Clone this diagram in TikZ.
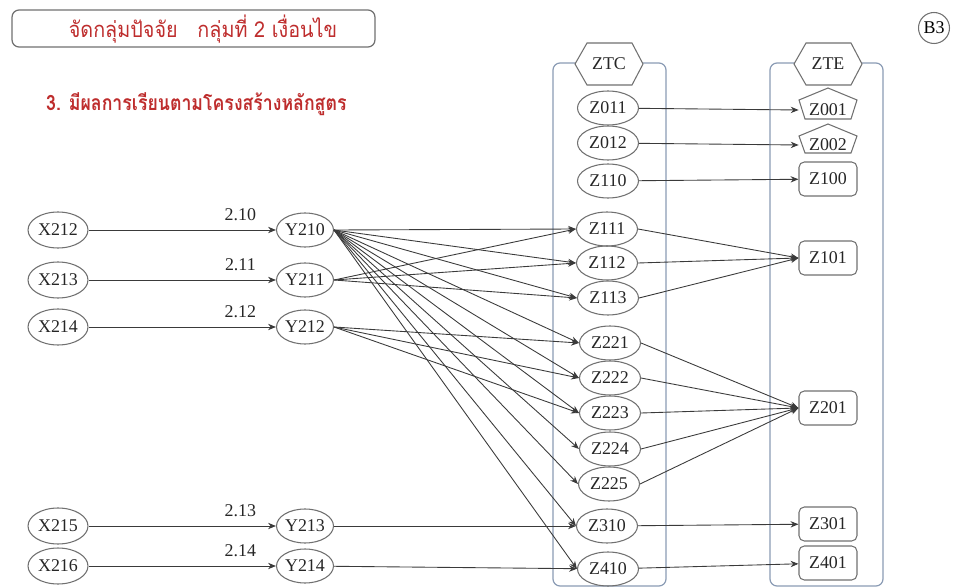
\documentclass[tikz,border=0pt]{standalone}
\usepackage{fontspec}
\setmainfont{Liberation Serif}
\newfontfamily\thaifont[Script=Thai, FakeStretch=0.9]{Loma}
\newfontfamily\thaihead[Script=Thai, FakeStretch=0.84]{Loma}
\usetikzlibrary{arrows.meta, positioning, shapes.geometric}
\definecolor{ztRed}{HTML}{BE2D2D}
\definecolor{ztFrame}{HTML}{8A9BB4}
\definecolor{ztLine}{HTML}{3A3A3A}
\definecolor{ztEdge}{HTML}{707070}

\begin{document}
\begin{tikzpicture}[
  x=0.02cm, y=-0.02cm,
  var/.style={
    ellipse, draw=ztEdge, line width=0.6pt, inner sep=0pt,
    minimum width=1.22cm, minimum height=0.68cm,
    font=\fontsize{10.2}{11}\selectfont, text=black!85,
  },
  zbox/.style={
    rectangle, rounded corners=3pt, draw=ztEdge, line width=0.6pt,
    minimum width=1.16cm, minimum height=0.68cm, inner sep=0pt,
    font=\fontsize{10.2}{11}\selectfont, text=black!85,
  },
  zpent/.style={
    rectangle, minimum width=1.16cm, minimum height=0.6cm, inner sep=0pt,
    font=\fontsize{10.2}{11}\selectfont, text=black!85,
  },
  frame/.style={draw=ztFrame, rounded corners=4pt, line width=0.7pt},
  hexa/.style={draw=ztEdge, fill=white, line width=0.6pt},
  arr/.style={-{Stealth[length=4.5pt, width=3.6pt]}, line width=0.5pt, color=ztLine},
  wlabel/.style={font=\fontsize{10.2}{11}\selectfont, text=black!85, inner sep=1pt},
]
\useasboundingbox (0,0) rectangle (958,588);

% Heading
\node[draw=ztEdge, rounded corners=4pt, line width=0.7pt,
      minimum width=7.26cm, minimum height=0.74cm] (title) at (193.5,28.5) {};
\node[font=\thaifont\fontsize{12.5}{14}\selectfont, text=ztRed] (titletext) at (203,29)
  {จัดกลุ่มปัจจัย\hspace{0.9em}กลุ่มที่ 2 เงื่อนไข};
\node[font=\thaihead\bfseries\fontsize{12}{14}\selectfont, text=ztRed, anchor=west]
  (subtitle) at (40,104) {3. มีผลการเรียนตามโครงสร้างหลักสูตร};
\node[circle, draw=ztEdge, line width=0.6pt, minimum size=0.62cm, inner sep=0pt,
      font=\fontsize{10.2}{11}\selectfont] (page) at (934,28) {B3};

% Containers
\draw[frame] (553,63) rectangle (666,586);
\draw[frame] (770,63) rectangle (883,586);
\coordinate (ztcC) at (609,64);
\coordinate (zteC) at (828,64);
\filldraw[hexa, shift={(ztcC)}] (-34,0) -- (-22,-21) -- (23,-21) -- (34,0) -- (23,21) -- (-22,21) -- cycle;
\filldraw[hexa, shift={(zteC)}] (-34,0) -- (-22,-21) -- (23,-21) -- (34,0) -- (23,21) -- (-22,21) -- cycle;
\node[wlabel] (ZTC) at (ztcC) {ZTC};
\node[wlabel] (ZTE) at (zteC) {ZTE};

% Left columns
\node[var, minimum width=1.2cm, minimum height=0.72cm] (X212) at (58,230) {X212};
\node[var, minimum width=1.2cm, minimum height=0.72cm] (X213) at (58,280) {X213};
\node[var, minimum width=1.2cm, minimum height=0.72cm] (X214) at (58,327) {X214};
\node[var, minimum width=1.2cm, minimum height=0.72cm] (X215) at (58,526) {X215};
\node[var, minimum width=1.2cm, minimum height=0.72cm] (X216) at (58,566) {X216};
\node[var, minimum width=1.14cm] (Y210) at (305,230) {Y210};
\node[var, minimum width=1.14cm] (Y211) at (305,280) {Y211};
\node[var, minimum width=1.14cm] (Y212) at (305,327) {Y212};
\node[var, minimum width=1.14cm] (Y213) at (305,526) {Y213};
\node[var, minimum width=1.14cm] (Y214) at (305,566) {Y214};

% ZTC column
\node[var] (Z011) at (608,108) {Z011};
\node[var] (Z012) at (608,143) {Z012};
\node[var] (Z110) at (608,181) {Z110};
\node[var] (Z111) at (607,229) {Z111};
\node[var] (Z112) at (607,263) {Z112};
\node[var] (Z113) at (608,298) {Z113};
\node[var] (Z221) at (610,343) {Z221};
\node[var] (Z222) at (610,378) {Z222};
\node[var] (Z223) at (610,413) {Z223};
\node[var] (Z224) at (610,449) {Z224};
\node[var] (Z225) at (609,484) {Z225};
\node[var] (Z310) at (607,526) {Z310};
\node[var] (Z410) at (608,569) {Z410};

% ZTE column
\node[zpent] (Z001) at (828,110) {Z001};
\node[zpent] (Z002) at (828,145) {Z002};
\draw[ztEdge, line width=0.6pt, shift={(Z001.center)}]
  (0,-22) -- (29,-10) -- (23,9) -- (-23,9) -- (-29,-10) -- cycle;
\draw[ztEdge, line width=0.6pt, shift={(Z002.center)}]
  (0,-21) -- (29,-9) -- (23,8) -- (-23,8) -- (-29,-9) -- cycle;
\node[zbox] (Z100) at (828,179) {Z100};
\node[zbox] (Z101) at (828,258) {Z101};
\node[zbox] (Z201) at (828,408) {Z201};
\node[zbox] (Z301) at (828,524) {Z301};
\node[zbox] (Z401) at (828,563) {Z401};

% X -> Y
\draw[arr] (X212) -- node[wlabel, above=4pt, pos=0.81] (w210) {2.10} (Y210);
\draw[arr] (X213) -- node[wlabel, above=4pt, pos=0.81] (w211) {2.11} (Y211);
\draw[arr] (X214) -- node[wlabel, above=4pt, pos=0.81] (w212) {2.12} (Y212);
\draw[arr] (X215) -- node[wlabel, above=4pt, pos=0.81] (w213) {2.13} (Y213);
\draw[arr] (X216) -- node[wlabel, above=4pt, pos=0.81] (w214) {2.14} (Y214);

% Y -> ZTC
\foreach \t in {Z111,Z112,Z113,Z221,Z222,Z223,Z224,Z225,Z310,Z410}
  \draw[arr] (Y210.east) -- (\t.west);
\foreach \t in {Z111,Z112,Z113}
  \draw[arr] (Y211.east) -- (\t.west);
\foreach \t in {Z221,Z222,Z223}
  \draw[arr] (Y212.east) -- (\t.west);
\draw[arr] (Y213) -- (Z310);
\draw[arr] (Y214) -- (Z410);

% ZTC -> ZTE
\draw[arr] (Z011) -- (Z001.west);
\draw[arr] (Z012) -- (Z002.west);
\draw[arr] (Z110) -- (Z100);
\foreach \s in {Z111,Z112,Z113}
  \draw[arr] (\s.east) -- (Z101.west);
\foreach \s in {Z221,Z222,Z223,Z224,Z225}
  \draw[arr] (\s.east) -- (Z201.west);
\draw[arr] (Z310) -- (Z301);
\draw[arr] (Z410) -- (Z401);

\end{tikzpicture}
\end{document}
